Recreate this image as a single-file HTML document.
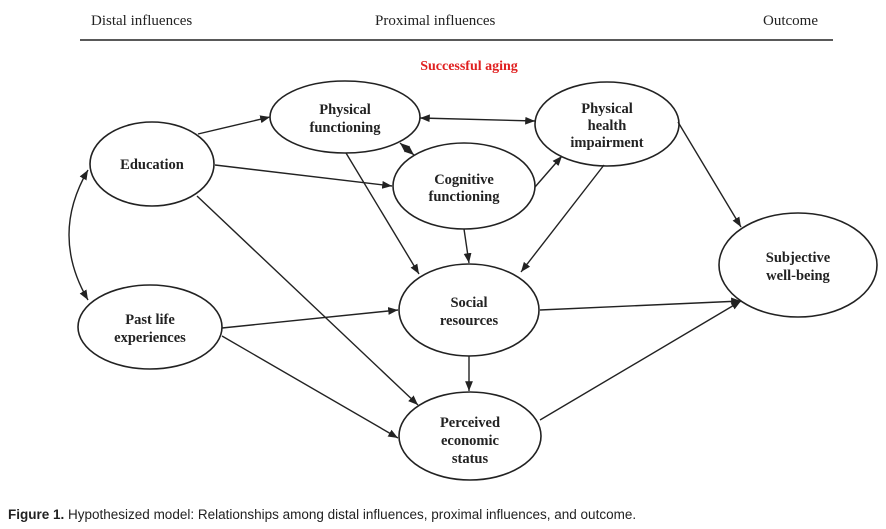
<!DOCTYPE html>
<html><head><meta charset="utf-8"><style>
body{margin:0;background:#fff;width:886px;height:529px;overflow:hidden}
svg{display:block}
.t{font-family:"Liberation Serif",serif;font-weight:bold;font-size:14.5px;fill:#222;text-anchor:middle}
.h{font-family:"Liberation Serif",serif;font-size:15px;fill:#222}
</style></head><body>
<svg width="886" height="529" viewBox="0 0 886 529">
<defs><marker id="a" viewBox="0 0 10 10" refX="10" refY="5" markerWidth="7" markerHeight="7" orient="auto-start-reverse"><path d="M0,1 L10,5 L0,9 z" fill="#222"/></marker></defs>
<text class="h" x="91" y="25">Distal influences</text>
<text class="h" x="375" y="25">Proximal influences</text>
<text class="h" x="763" y="25">Outcome</text>
<line x1="80" y1="40" x2="833" y2="40" stroke="#222" stroke-width="1.5"/>
<text x="469" y="70" style="font-family:'Liberation Serif',serif;font-weight:bold;font-size:14px;fill:#e02020;text-anchor:middle">Successful aging</text>
<g fill="none" stroke="#222" stroke-width="1.6">
<ellipse cx="152" cy="164" rx="62" ry="42"/>
<ellipse cx="345" cy="117" rx="75" ry="36"/>
<ellipse cx="607" cy="124" rx="72" ry="42"/>
<ellipse cx="464" cy="186" rx="71" ry="43"/>
<ellipse cx="150" cy="327" rx="72" ry="42"/>
<ellipse cx="469" cy="310" rx="70" ry="46"/>
<ellipse cx="798" cy="265" rx="79" ry="52"/>
<ellipse cx="470" cy="436" rx="71" ry="44"/>
</g>
<g stroke="#222" stroke-width="1.4" fill="none" marker-end="url(#a)">
<line x1="198" y1="134" x2="270" y2="117"/>
<line x1="215" y1="165" x2="392" y2="186"/>
<line x1="197" y1="196" x2="418" y2="405"/>
<path d="M88,170 Q50,235 88,300" marker-start="url(#a)"/>
<line x1="420" y1="118" x2="535" y2="121" marker-start="url(#a)"/>
<line x1="400" y1="143" x2="414" y2="155" marker-start="url(#a)"/>
<line x1="346" y1="153" x2="419" y2="274"/>
<line x1="535" y1="187" x2="562" y2="156"/>
<line x1="464" y1="229" x2="469" y2="263"/>
<line x1="604" y1="165" x2="521" y2="272"/>
<line x1="678" y1="122" x2="741" y2="227"/>
<line x1="222" y1="328" x2="398" y2="310"/>
<line x1="222" y1="336" x2="398" y2="438"/>
<line x1="469" y1="356" x2="469" y2="391"/>
<line x1="540" y1="310" x2="741" y2="301"/>
<line x1="540" y1="420" x2="741" y2="301"/>
</g>
<text class="t" x="345" y="114">Physical</text>
<text class="t" x="345" y="132">functioning</text>
<text class="t" x="152" y="169">Education</text>
<text class="t" x="464" y="184">Cognitive</text>
<text class="t" x="464" y="201">functioning</text>
<text class="t" x="607" y="113">Physical</text>
<text class="t" x="607" y="130">health</text>
<text class="t" x="607" y="147">impairment</text>
<text class="t" x="150" y="324">Past life</text>
<text class="t" x="150" y="342">experiences</text>
<text class="t" x="469" y="307">Social</text>
<text class="t" x="469" y="325">resources</text>
<text class="t" x="798" y="262">Subjective</text>
<text class="t" x="798" y="280">well-being</text>
<text class="t" x="470" y="427">Perceived</text>
<text class="t" x="470" y="445">economic</text>
<text class="t" x="470" y="463">status</text>
<text x="8" y="519" style="font-family:'Liberation Sans',sans-serif;font-size:13.5px;fill:#222"><tspan font-weight="bold">Figure 1.</tspan>  Hypothesized model: Relationships among distal influences, proximal influences, and outcome.</text>
</svg>
</body></html>
